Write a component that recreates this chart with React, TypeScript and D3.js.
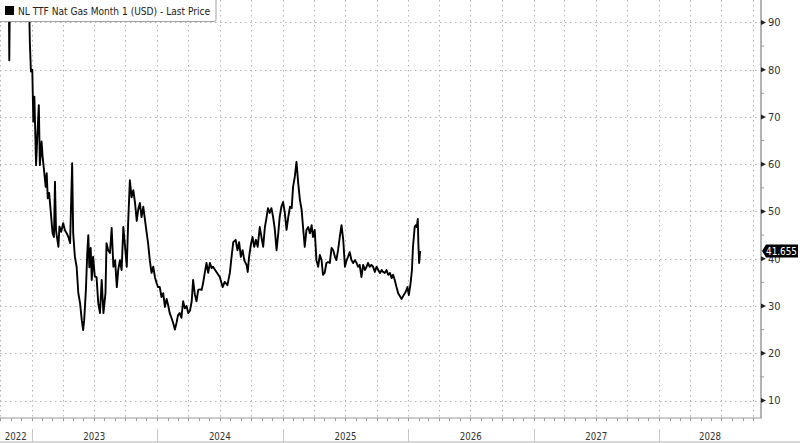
import React from "react";
import * as d3 from "d3";

const title = "NL TTF Nat Gas Month 1 (USD) - Last Price";
const lastLabel = "41.655";
const yTicks = [10, 20, 30, 40, 50, 60, 70, 80, 90];
const yMinor = [5, 15, 25, 35, 45, 55, 65, 75, 85, 95];
const years = ["2022", "2023", "2024", "2025", "2026", "2027", "2028"];

const dates = [
  "2022-10-03","2022-10-26","2022-10-28","2022-10-31","2022-11-28","2022-12-23","2022-12-27","2022-12-30",
  "2023-01-03","2023-01-06","2023-01-09","2023-01-14","2023-01-18","2023-01-22","2023-01-25","2023-01-30",
  "2023-02-02","2023-02-07","2023-02-11","2023-02-14","2023-02-17","2023-02-21","2023-02-26",
  "2023-03-03","2023-03-07","2023-03-10","2023-03-13","2023-03-20","2023-03-23","2023-03-28",
  "2023-04-03","2023-04-08","2023-04-13","2023-04-18","2023-04-23","2023-04-29",
  "2023-05-02","2023-05-07","2023-05-12","2023-05-17","2023-05-22","2023-05-27","2023-05-31",
  "2023-06-03","2023-06-08","2023-06-12","2023-06-15","2023-06-18","2023-06-22","2023-06-25","2023-06-29",
  "2023-07-04","2023-07-09","2023-07-14","2023-07-19","2023-07-24","2023-07-29",
  "2023-08-04","2023-08-07","2023-08-12","2023-08-17","2023-08-22","2023-08-27",
  "2023-09-01","2023-09-06","2023-09-10","2023-09-15","2023-09-20","2023-09-25","2023-09-30",
  "2023-10-05","2023-10-09","2023-10-14","2023-10-19","2023-10-24","2023-10-29",
  "2023-11-03","2023-11-07","2023-11-12","2023-11-17","2023-11-22","2023-11-27",
  "2023-12-02","2023-12-06","2023-12-11","2023-12-16","2023-12-21","2023-12-26","2023-12-31",
  "2024-01-04","2024-01-09","2024-01-14","2024-01-19","2024-01-24","2024-01-29",
  "2024-02-03","2024-02-07","2024-02-12","2024-02-17","2024-02-22","2024-02-27",
  "2024-03-02","2024-03-07","2024-03-12","2024-03-17","2024-03-22","2024-03-27",
  "2024-04-01","2024-04-06","2024-04-11","2024-04-15","2024-04-20","2024-04-25","2024-04-30",
  "2024-05-05","2024-05-10","2024-05-14","2024-05-19","2024-05-24","2024-05-29",
  "2024-06-03","2024-06-08","2024-06-12","2024-06-22",
  "2024-07-02","2024-07-10","2024-07-16","2024-07-24","2024-07-31",
  "2024-08-05","2024-08-10","2024-08-17","2024-08-22","2024-08-27",
  "2024-09-01","2024-09-06","2024-09-11","2024-09-18","2024-09-21","2024-09-25","2024-09-30",
  "2024-10-05","2024-10-10","2024-10-15","2024-10-20","2024-10-26","2024-10-31",
  "2024-11-05","2024-11-10","2024-11-15","2024-11-19","2024-11-24","2024-11-29",
  "2024-12-04","2024-12-09","2024-12-14","2024-12-19","2024-12-23","2024-12-28",
  "2025-01-02","2025-01-07","2025-01-12","2025-01-17","2025-01-22","2025-01-27","2025-01-31",
  "2025-02-05","2025-02-10","2025-02-15","2025-02-20","2025-02-25",
  "2025-03-01","2025-03-06","2025-03-11","2025-03-16","2025-03-21","2025-03-26","2025-03-30",
  "2025-04-04","2025-04-09","2025-04-14","2025-04-19","2025-04-24","2025-04-28",
  "2025-05-03","2025-05-08","2025-05-13","2025-05-18","2025-05-23","2025-05-28",
  "2025-06-02","2025-06-06","2025-06-11","2025-06-16","2025-06-21","2025-06-26",
  "2025-07-01","2025-07-06","2025-07-10","2025-07-15","2025-07-20","2025-07-25","2025-07-30",
  "2025-08-04","2025-08-08","2025-08-13","2025-08-18","2025-08-23","2025-08-28",
  "2025-09-02","2025-09-06","2025-09-11","2025-09-16","2025-09-21","2025-09-26",
  "2025-10-01","2025-10-06","2025-10-11","2025-10-16","2025-10-20","2025-10-25","2025-10-30",
  "2025-11-04","2025-11-09","2025-11-14","2025-11-18","2025-11-23","2025-11-28",
  "2025-12-03","2025-12-06","2025-12-13","2025-12-19","2025-12-25","2025-12-30",
  "2026-01-03","2026-01-08","2026-01-12","2026-01-15","2026-01-20","2026-01-23","2026-01-26","2026-01-29","2026-01-31",
  "2026-02-02","2026-02-05"
];

const prices = [
  115,105,82,105,118,100,85.6,79.6,
  80,69,74.3,59.8,66.6,72.5,59.8,64.8,
  61.6,58.1,55.2,58.1,52.8,53.9,49.7,
  45.4,44.6,56.3,46,42.5,46.8,45.7,
  47.5,46,45.4,44.6,43.3,60.2,
  45.4,40.4,38.3,32.7,30.6,27,24.9,
  27,33.4,41.2,45,38.2,42.3,35.5,40.4,
  36.2,36.1,30.6,28.5,35.5,28.5,
  32.7,43.3,41.8,41.2,46.5,38.3,
  39.7,34,37.6,39.7,37.6,46.7,42.5,
  38.3,47.6,56.6,53,54.5,51.8,
  48,50.3,51.8,48.8,51,48.2,
  45.4,43.3,39.7,37,38.3,36.1,34.8,
  34,34,31.9,32.7,29.8,31.5,
  30,28.5,27.5,26.4,25,26.5,
  28,28.5,27.5,31,29.5,30,
  28.5,29,31,35.5,32.5,31,33.4,
  33.5,33.4,34.8,37,39.1,37,
  39.1,38,38.3,37.2,
  36.1,34,35.1,34.4,37,
  40.4,43.5,44,41.8,43.5,
  40.4,41.8,39.7,38.6,37.2,40.4,42.9,
  44.6,42.5,44,42.5,46.7,44.6,
  42.5,46.7,48.8,50.7,49.7,50.7,
  48.8,46.1,41.8,45.4,48.8,51,
  52,49.7,46.1,48.8,51,50.7,55.2,
  57.3,60.5,56,52.4,50.3,
  46.7,42.5,46.1,46.7,45.4,47.1,44.6,
  46.1,39.7,38.3,40.8,39.7,36.6,
  37,39.1,39.3,39.1,42.3,41.8,
  40.4,39.7,41.8,44.6,47.1,44,
  38.3,39.7,40.4,41.4,39.7,39.1,39.7,
  39.1,38.3,38.7,36.1,38.7,37.6,
  38.3,39.1,38.3,38.7,38.3,37.2,
  38.3,37.6,37,37.6,37.2,37,37.6,
  36.6,37,35.9,36.6,35.5,34,
  32.7,32.3,31.5,32.3,33,34,
  32.3,34.8,37.6,42.5,46.7,47.1,46.7,48.4,42.5,
  39.1,41.655
];

const W = 800;
const H = 443;
const plotRight = 761;
const plotBottom = 418;
const FONT = "'Liberation Sans Narrow', 'DejaVu Sans Condensed', 'Liberation Sans', sans-serif";

export default function App() {
  const parse = d3.utcParse("%Y-%m-%d");
  const domainStart = parse("2022-10-01") as Date;
  const domainEnd = parse("2028-10-24") as Date;
  const x = d3.scaleUtc().domain([domainStart, domainEnd]).range([0, plotRight]);
  const y = d3.scaleLinear().domain([10, 90]).range([400.5, 22.4]);

  const data = dates.map((d, i) => ({ date: parse(d) as Date, v: prices[i] }));
  const line = d3
    .line<{ date: Date; v: number }>()
    .x((d) => x(d.date))
    .y((d) => y(d.v));

  const quarters = d3.utcMonth.every(3)!.range(domainStart, domainEnd);
  const months = d3.utcMonth.range(domainStart, domainEnd);
  const yearStarts = d3.utcYear.range(domainStart, domainEnd);

  const yearSpans = years.map((yr) => {
    const s = parse(`${yr}-01-01`) as Date;
    const e = parse(`${+yr + 1}-01-01`) as Date;
    const a = Math.max(0, x(s));
    const b = Math.min(plotRight, x(e));
    return { yr, cx: (a + b) / 2 };
  });

  const grid = "#b5b5b5";
  const axisCol = "#9a9a9a";
  const lastV = prices[prices.length - 1];
  const ly = y(lastV);

  return (
    <svg
      width={W}
      height={H}
      style={{ position: "absolute", left: 0, top: 0, background: "#fff" }}
      fontFamily={FONT}
    >
      <defs>
        <clipPath id="plot">
          <rect x={0} y={0} width={plotRight} height={plotBottom} />
        </clipPath>
      </defs>
      <rect x={0} y={0} width={W} height={H} fill="#fff" />
      {yTicks.map((t) => (
        <line
          key={"h" + t}
          x1={0}
          x2={plotRight}
          y1={Math.round(y(t)) + 0.5}
          y2={Math.round(y(t)) + 0.5}
          stroke={grid}
          strokeWidth={1}
          strokeDasharray="1.5,3.5"
        />
      ))}
      {quarters.map((q, i) => (
        <line
          key={"v" + i}
          x1={Math.round(x(q)) + 0.5}
          x2={Math.round(x(q)) + 0.5}
          y1={0}
          y2={plotBottom}
          stroke={grid}
          strokeWidth={1}
          strokeDasharray="1.5,3.5"
        />
      ))}
      <path
        d={line(data) || ""}
        fill="none"
        stroke="#000"
        strokeWidth={1.9}
        strokeLinejoin="round"
        clipPath="url(#plot)"
      />
      <line x1={plotRight} x2={plotRight} y1={0} y2={plotBottom + 0.5} stroke={axisCol} strokeWidth={1.5} />
      <line x1={0} x2={plotRight} y1={plotBottom} y2={plotBottom} stroke={axisCol} strokeWidth={1.2} />
      {months.map((m, i) => (
        <line
          key={"m" + i}
          x1={Math.round(x(m)) + 0.5}
          x2={Math.round(x(m)) + 0.5}
          y1={plotBottom}
          y2={plotBottom + 3}
          stroke={axisCol}
          strokeWidth={1}
        />
      ))}
      {yearStarts.map((ys, i) => (
        <line
          key={"ys" + i}
          x1={Math.round(x(ys)) + 0.5}
          x2={Math.round(x(ys)) + 0.5}
          y1={429}
          y2={442}
          stroke="#c8c8c8"
          strokeWidth={1}
        />
      ))}
      <line x1={0} x2={W} y1={442} y2={442} stroke="#b0b0b0" strokeWidth={1} />
      {yearSpans.map((s) => (
        <text
          key={s.yr}
          x={s.cx}
          y={440}
          textAnchor="middle"
          fontSize={11}
          fill="#333"
          textLength={22}
          lengthAdjust="spacingAndGlyphs"
        >
          {s.yr}
        </text>
      ))}
      {yMinor.map((t) =>
        y(t) > 0 && y(t) < plotBottom ? (
          <line key={"mn" + t} x1={plotRight} x2={plotRight + 3} y1={y(t)} y2={y(t)} stroke={axisCol} strokeWidth={1} />
        ) : null
      )}
      {yTicks.map((t) => (
        <g key={"yt" + t}>
          <path
            d={`M${plotRight},${y(t) - 2.5} L${plotRight + 5},${y(t)} L${plotRight},${y(t) + 2.5} Z`}
            fill="#222"
          />
          <text x={768} y={y(t)} dy="0.35em" fontSize={11} fill="#333">
            {t}
          </text>
        </g>
      ))}
      <path
        d={`M${plotRight + 1},${ly} L${plotRight + 5},${ly - 6.5} L${W - 2},${ly - 6.5} L${W - 2},${ly + 6.5} L${plotRight + 5},${ly + 6.5} Z`}
        fill="#000"
      />
      <text
        x={766}
        y={ly}
        dy="0.35em"
        fontSize={11}
        fill="#fff"
        textLength={31}
        lengthAdjust="spacingAndGlyphs"
      >
        {lastLabel}
      </text>
      <rect x={-2} y={-2} width={218} height={23.5} rx={2} fill="#fff" stroke="#a0a0a0" strokeWidth={1} />
      <rect x={5} y={6} width={9} height={9} fill="#000" />
      <text
        x={18}
        y={14.5}
        fontSize={11}
        fill="#222"
        textLength={192}
        lengthAdjust="spacingAndGlyphs"
      >
        {title}
      </text>
    </svg>
  );
}
